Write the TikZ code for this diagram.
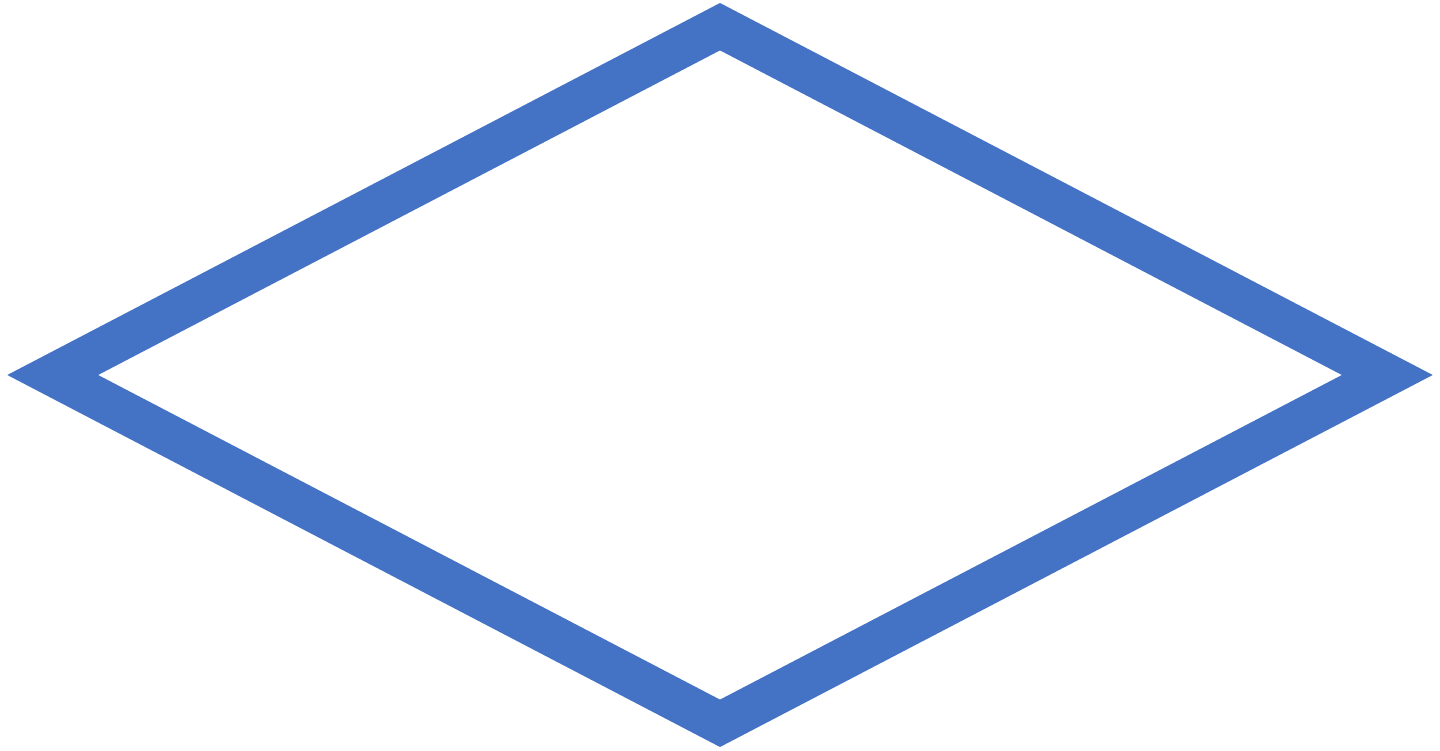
\documentclass[tikz,border=0pt]{standalone}
\usepackage{tikz}
\usetikzlibrary{shapes.geometric}
\definecolor{officeblue}{HTML}{4472C4}
\tikzstyle{decision} = [diamond, draw=officeblue, line width=21pt, line join=miter, inner sep=0pt, minimum width=676pt, minimum height=357pt]

\begin{document}
\begin{tikzpicture}
    \useasboundingbox (0,0) rectangle (720pt,375pt);
    % Shape
    \node[decision] (check) at (360pt,187.5pt) {};
\end{tikzpicture}
\end{document}
